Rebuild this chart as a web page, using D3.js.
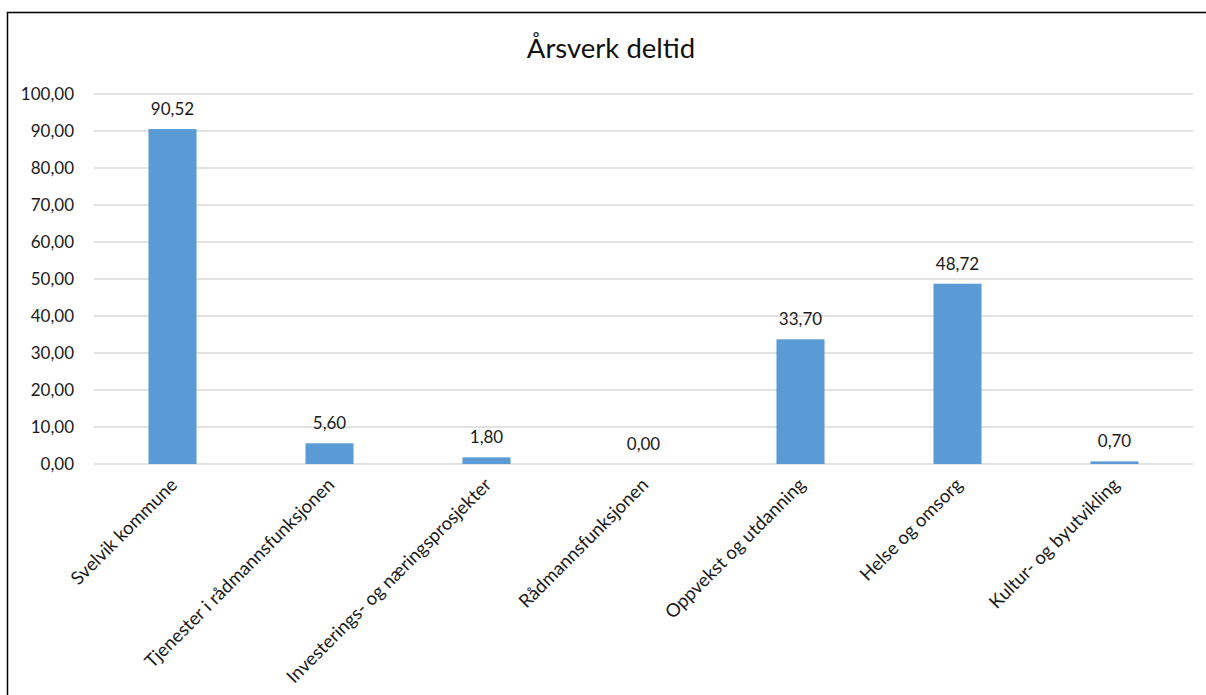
<!DOCTYPE html>
<html>
<head>
<meta charset="utf-8">
<script src="https://cdn.jsdelivr.net/npm/d3@7"></script>
<style>
  body { margin:0; background:#fff; }
  text { font-family: Lato, "Open Sans", sans-serif; }
</style>
</head>
<body>
<div id="chart"></div>
<script>
// data
var categories = ['Svelvik kommune','Tjenester i rådmannsfunksjonen','Investerings- og næringsprosjekter','Rådmannsfunksjonen','Oppvekst og utdanning','Helse og omsorg','Kultur- og byutvikling'];
var values = [90.52, 5.60, 1.80, 0.00, 33.70, 48.72, 0.70];
var yTicks = [0,10,20,30,40,50,60,70,80,90,100];
var title = 'Årsverk deltid';

var W = 1206, H = 695;
var fmt = function(v){ return d3.format('.2f')(v).replace('.', ','); };

var svg = d3.select('#chart').append('svg').attr('width', W).attr('height', H);

// chart frame (goes off the right/bottom edge)
svg.append('rect')
    .attr('x', 7.5).attr('y', 12.5).attr('width', 1210).attr('height', 700)
    .attr('fill', '#fff').attr('stroke', '#000').attr('stroke-width', 1.5);

var x = d3.scaleBand().domain(categories).range([94, 1193]).paddingInner(0.694).paddingOuter(0.347);
var y = d3.scaleLinear().domain([0, 100]).range([464, 94]);

// gridlines
svg.append('g').selectAll('line').data(yTicks).enter().append('line')
    .attr('x1', 94).attr('x2', 1193)
    .attr('y1', d=>y(d)).attr('y2', d=>y(d))
    .attr('stroke', '#d9d9d9').attr('stroke-width', 1.3);

// y axis labels
var yAxis = d3.axisLeft(y).tickValues(yTicks).tickFormat(fmt).tickSize(0).tickPadding(20);
var gy = svg.append('g').attr('transform', 'translate(94,0)').call(yAxis);
gy.select('.domain').remove();
gy.selectAll('text').attr('font-size', 17).attr('fill', '#1a1a1a').style('font-family', 'Lato, sans-serif');

// bars
svg.append('g').selectAll('rect').data(values).enter().append('rect')
    .attr('x', (d,i)=>x(categories[i]))
    .attr('width', x.bandwidth())
    .attr('y', d=>y(d))
    .attr('height', d=>y(0)-y(d))
    .attr('fill', '#5b9bd5');

// value labels
svg.append('g').selectAll('text').data(values).enter().append('text')
    .attr('x', (d,i)=>x(categories[i]) + x.bandwidth()/2)
    .attr('y', d=>y(d) - 14)
    .attr('text-anchor', 'middle')
    .attr('font-size', 17).attr('fill', '#1a1a1a')
    .text(fmt);

// category labels
var xAxis = d3.axisBottom(x).tickSize(0).tickPadding(0);
var gx = svg.append('g').attr('transform', 'translate(0,464)').call(xAxis);
gx.select('.domain').remove();
gx.selectAll('text')
    .attr('font-size', 18.5).attr('fill', '#1a1a1a').style('font-family', 'Lato, sans-serif')
    .attr('text-anchor', 'end')
    .attr('dy', null).attr('y', 0)
    .attr('transform', 'translate(6,22) rotate(-45)');

// title
svg.append('text')
    .attr('x', 611).attr('y', 58)
    .attr('text-anchor', 'middle')
    .attr('font-size', 27.5).attr('fill', '#111')
    .text(title);
</script>
</body>
</html>
